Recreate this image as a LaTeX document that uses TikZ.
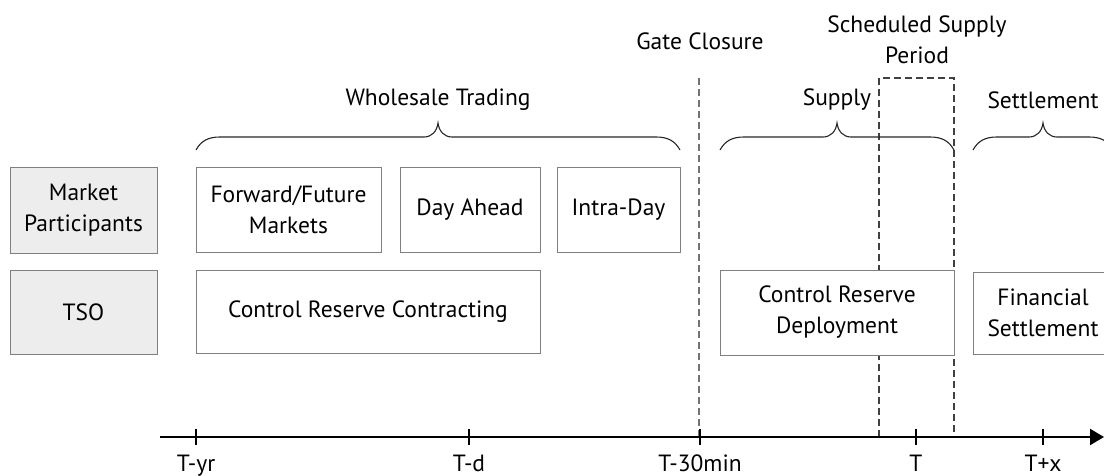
\documentclass[tikz,border=0pt]{standalone}
\usepackage{fontspec}
\setmainfont{PT Sans}
\usetikzlibrary{arrows.meta}

% horizontal curly brace opening downwards: #1 = left x, #2 = right x
\newcommand{\phasebrace}[2]{%
  \pgfmathsetmacro{\bl}{#1}%
  \pgfmathsetmacro{\br}{#2}%
  \pgfmathsetmacro{\bm}{(#1+#2)/2}%
  \draw[bracestyle]
    (\bl,150) .. controls (\bl+5,141) and (\bl+12,137) .. (\bl+24,137)
    -- (\bm-14,137) .. controls (\bm-6,137) and (\bm-1,131) .. (\bm,123)
    .. controls (\bm+1,131) and (\bm+6,137) .. (\bm+14,137)
    -- (\br-24,137) .. controls (\br-12,137) and (\br-5,141) .. (\br,150);
}

\begin{document}
\begin{tikzpicture}[x=1pt,y=-1pt,
  txt/.style={font=\fontsize{23.5}{31}\selectfont, align=center, inner sep=0pt},
  box/.style={txt, draw=black!50, line width=1pt, fill=white},
  rolebox/.style={box, fill=black!7},
  bracestyle/.style={draw=black!85, line width=1.1pt},
  gateline/.style={draw=black!55, line width=1.1pt, dash pattern=on 7pt off 4pt},
  axisline/.style={line width=2.4pt, -{Triangle[length=14pt,width=16pt]}},
  tickmark/.style={line width=2pt},
  ticklabel/.style={txt, anchor=base}
]
\useasboundingbox (0,0) rectangle (1104,476);
\clip (0,0) rectangle (1104,476);

% time axis
\coordinate (axstart) at (160,437);
\coordinate (axend) at (1104,437);

% gate closure marker
\coordinate (gctop) at (699,78);
\coordinate (gcbot) at (699,437);
\draw[gateline] (gctop) -- (gcbot);

% scheduled supply period window
\coordinate (sspA) at (879,437);
\coordinate (sspB) at (879,78);
\coordinate (sspC) at (954,78);
\coordinate (sspD) at (954,437);
\draw[gateline, draw=black!75] (sspA) -- (sspB) -- (sspC) -- (sspD);

% actors
\node[rolebox, minimum width=147pt, minimum height=85pt] (mp) at (83.5,210.5) {Market\\Participants};
\node[rolebox, minimum width=147pt, minimum height=84pt] (tso) at (83.5,312) {TSO};

% market participant activities
\node[box, minimum width=185pt, minimum height=84pt] (ffm) at (288.5,210) {Forward/Future\\Markets};
\node[box, minimum width=140pt, minimum height=84pt] (da) at (470,210) {Day Ahead};
\node[box, minimum width=123pt, minimum height=84pt] (id) at (618.5,210) {Intra-Day};

% TSO activities
\node[box, minimum width=344pt, minimum height=83pt] (crc) at (368,311.5) {Control Reserve Contracting};
\node[box, minimum width=234pt, minimum height=85pt] (crd) at (837,312.5) {Control Reserve\\Deployment};
\node[box, minimum width=140pt, minimum height=82pt] (fs) at (1043,313) {Financial\\Settlement};

% phases
\phasebrace{196}{680}
\phasebrace{720}{954}
\phasebrace{973}{1113}
\node[txt] (wt) at (438,100) {Wholesale Trading};
\node[txt] (sup) at (837,100) {Supply};
\node[txt] (set) at (1043,100) {Settlement};

% event labels
\node[txt] (gc) at (700,41) {Gate Closure};
\node[txt] (ssp) at (917,40) {Scheduled Supply\\Period};

% axis and ticks
\draw[axisline] (axstart) -- (axend);
\foreach \x/\lab/\nm in {196/T-yr/tyr, 469/T-d/td, 700/T-30min/tmin, 916/T/tt, 1043/T+x/tx}{
  \draw[tickmark] (\x,429) -- (\x,445);
  \node[ticklabel] (\nm) at (\x,471) {\lab};
}
\end{tikzpicture}
\end{document}
